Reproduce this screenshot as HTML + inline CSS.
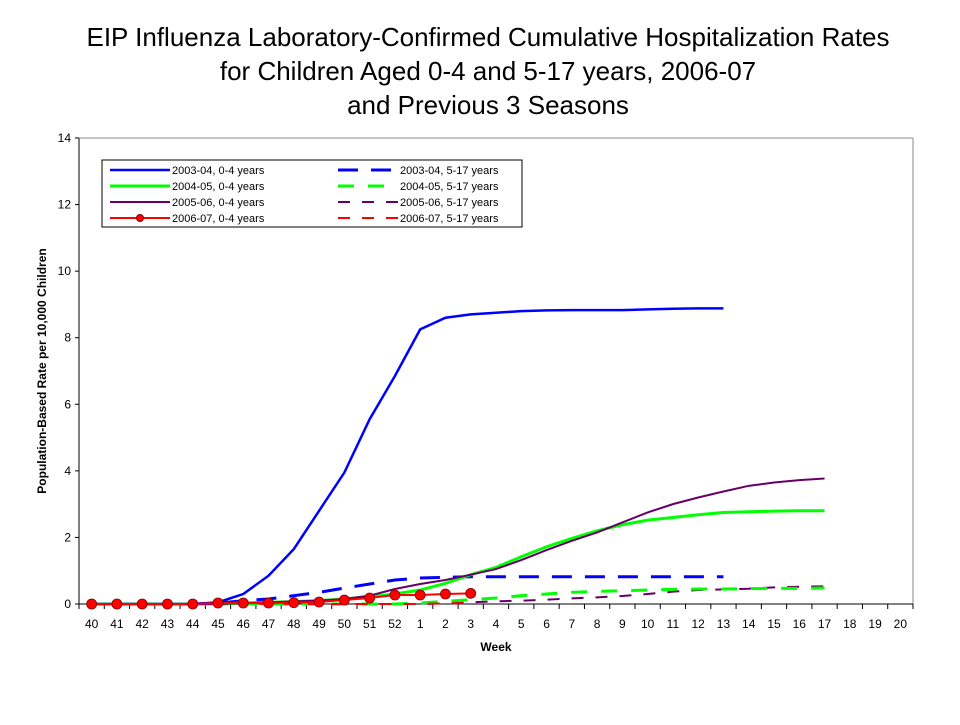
<!DOCTYPE html>
<html><head><meta charset="utf-8"><style>
body{margin:0;background:#fff;font-family:"Liberation Sans",Arial,sans-serif}
svg text{font-family:"Liberation Sans",Arial,sans-serif}
</style></head><body>
<svg id="c" width="960" height="720">
<text x="488" y="46" font-size="26" text-anchor="middle">EIP Influenza Laboratory-Confirmed Cumulative Hospitalization Rates</text>
<text x="488" y="80" font-size="26" text-anchor="middle">for Children Aged 0-4 and 5-17 years, 2006-07</text>
<text x="488" y="114" font-size="26" text-anchor="middle">and Previous 3 Seasons</text>
<text transform="translate(46,371) rotate(-90)" font-size="12" font-weight="bold" text-anchor="middle">Population-Based Rate per 10,000 Children</text>
<text x="496" y="651" font-size="12" font-weight="bold" text-anchor="middle">Week</text>
<g id="axes"></g><g id="series"></g>
<g>
<rect x="102" y="160" width="420" height="67" fill="#fff" stroke="#000" stroke-width="1"/>
<g id="leg"></g></g>
</svg>
<script>
const weeks=["40","41","42","43","44","45","46","47","48","49","50","51","52","1","2","3","4","5","6","7","8","9","10","11","12","13","14","15","16","17","18","19","20"];
const yTicks=[0,2,4,6,8,10,12,14];
const s0304a=[0,0,0,0,0,0.05,0.3,0.85,1.65,2.8,3.95,5.55,6.85,8.25,8.6,8.7,8.75,8.8,8.82,8.83,8.83,8.83,8.85,8.87,8.88,8.88];
const s0304b=[0,0,0,0,0,0.02,0.1,0.15,0.25,0.35,0.48,0.6,0.72,0.78,0.8,0.82,0.82,0.82,0.82,0.82,0.82,0.82,0.82,0.82,0.82,0.82];
const s0405a=[0,0,0,0,0,0,0.03,0.05,0.07,0.1,0.15,0.22,0.3,0.42,0.62,0.88,1.1,1.42,1.72,1.97,2.2,2.38,2.52,2.6,2.68,2.75,2.77,2.79,2.8,2.8];
const s0405b=[0,0,0,0,0,0,0,0,0,0,0,0,0,0.03,0.08,0.13,0.18,0.25,0.3,0.35,0.38,0.4,0.42,0.44,0.45,0.45,0.46,0.47,0.47,0.48];
const s0506a=[0,0,0,0,0,0,0.03,0.05,0.08,0.1,0.15,0.25,0.45,0.6,0.72,0.88,1.05,1.32,1.62,1.9,2.15,2.45,2.75,3.0,3.2,3.38,3.55,3.65,3.72,3.77];
const s0506b=[0,0,0,0,0,0,0,0,0,0,0,0,0,0,0.02,0.05,0.08,0.1,0.13,0.17,0.2,0.24,0.3,0.37,0.42,0.44,0.46,0.5,0.52,0.53];
const s0607a=[0,0,0,0,0,0.03,0.03,0.03,0.04,0.06,0.12,0.18,0.27,0.27,0.3,0.32];
const s0607b=[0,0,0,0,0,0,0,0,0,0,0,0,0,0,0.02,0.03];
const NS="http://www.w3.org/2000/svg";
const X0=79,X1=913,Y0=604,Y1=138,step=(X1-X0)/weeks.length;
const xs=i=>X0+step*(i+0.5), ys=v=>Y0-(v/14)*(Y0-Y1);
function mk(t,a,p){const e=document.createElementNS(NS,t);for(const k in a)e.setAttribute(k,a[k]);p.appendChild(e);return e;}
const ax=document.getElementById('axes');
const ya=mk('line',{x1:X0,y1:Y1,x2:X0,y2:Y0,stroke:'#000'},ax);


mk('line',{x1:X1,y1:Y1,x2:X1,y2:Y0,stroke:'#888'},ax);
mk('line',{x1:X0,y1:Y1,x2:X1,y2:Y1,stroke:'#888'},ax);
const xa=mk('line',{x1:X0,y1:Y0,x2:X1,y2:Y0,stroke:'#000'},ax);


yTicks.forEach(v=>{mk('line',{x1:X0-4,y1:ys(v),x2:X0,y2:ys(v),stroke:'#000'},ax);
const t=mk('text',{x:X0-8,y:ys(v)+4,'font-size':12,'text-anchor':'end'},ax);t.textContent=v;

});
for(let i=0;i<=weeks.length;i++)mk('line',{x1:X0+step*i,y1:Y0,x2:X0+step*i,y2:Y0+5,stroke:'#000'},ax);
weeks.forEach((w,i)=>{const t=mk('text',{x:xs(i),y:Y0+24,'font-size':12,'text-anchor':'middle'},ax);t.textContent=w;

});
const sg=document.getElementById('series');
function line(d,col,w,dash,name){const p=mk('polyline',{points:d.map((v,i)=>xs(i)+','+ys(v)).join(' '),fill:'none',stroke:col,'stroke-width':w,'stroke-dasharray':dash||'none'},sg);

return p;}
line(s0506b,'#660066',2,'12,12','line-2005-06-5-17');
line(s0405b,'#00ff00',3,'16,14','line-2004-05-5-17');
line(s0304b,'#0000ff',3,'20,13','line-2003-04-5-17');
line(s0607b,'#ff0000',2,'12,12','line-2006-07-5-17');
line(s0405a,'#00ff00',3,'','line-2004-05-0-4');
line(s0506a,'#660066',2,'','line-2005-06-0-4');
line(s0304a,'#0000ff',2.5,'','line-2003-04-0-4');
line(s0607a,'#ff0000',2,'','line-2006-07-0-4');
s0607a.forEach((v,i)=>{const c=mk('circle',{cx:xs(i),cy:ys(v),r:5,fill:'#ff0000',stroke:'#800000','stroke-width':0.8},sg);

});
const lg=document.getElementById('leg');
const items=[["2003-04, 0-4 years",'#0000ff',2.5,''],["2003-04, 5-17 years",'#0000ff',3,'20,13'],["2004-05, 0-4 years",'#00ff00',3,''],["2004-05, 5-17 years",'#00ff00',3,'16,14'],["2005-06, 0-4 years",'#660066',2,''],["2005-06, 5-17 years",'#660066',2,'12,12'],["2006-07, 0-4 years",'#ff0000',2,''],["2006-07, 5-17 years",'#ff0000',2,'12,12']];
items.forEach((it,k)=>{const col=k%2,row=Math.floor(k/2);const x=col?338:110,y=170+row*16;
const g=mk('g',{},lg);


mk('line',{x1:x,y1:y,x2:x+60,y2:y,stroke:it[1],'stroke-width':it[2],'stroke-dasharray':it[3]||'none'},g);
if(k==6)mk('circle',{cx:x+30,cy:y,r:3.5,fill:'#ff0000',stroke:'#800000'},g);
const t=mk('text',{x:x+62,y:y+4,'font-size':11},g);t.textContent=it[0];});
</script>
</body></html>
